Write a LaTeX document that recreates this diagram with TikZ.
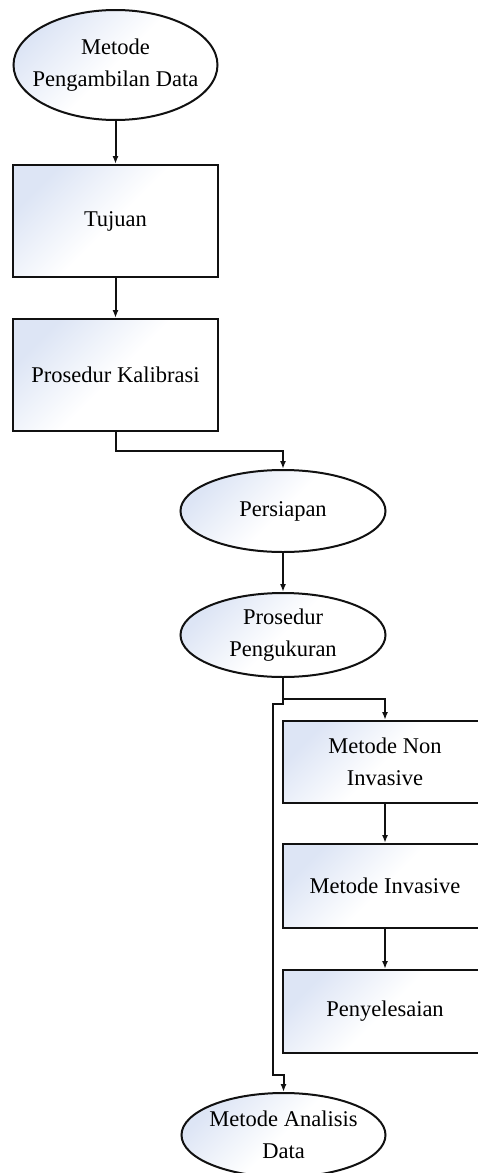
\documentclass[tikz,border=0pt]{standalone}
\usepackage{fontspec}
\setmainfont{Liberation Serif}
\usetikzlibrary{shapes.geometric,arrows.meta}
\definecolor{gradc}{HTML}{DDE5F5}
\definecolor{linec}{HTML}{111111}
\tikzset{
  gfill/.style={draw=linec, line width=2pt, top color=gradc, bottom color=white, middle color=white, shading angle=45},
  ell/.style={gfill, ellipse, inner sep=0pt},
  boxn/.style={gfill, rectangle, inner sep=0pt},
  txt/.style={align=center, font=\fontsize{22.5}{32}\selectfont, text=black, inner sep=0pt},
  conn/.style={draw=linec, line width=2pt, -{Latex[length=8pt,width=6pt]}},
}
\begin{document}
\begin{tikzpicture}[x=1pt,y=-1pt]
\useasboundingbox (0,0) rectangle (478,1173);
\clip (0,0) rectangle (478,1173);
\node[ell, minimum width=204pt, minimum height=110pt] (top) at (115.5,65) {};
\node[txt] (toptxt) at (top.center) {Metode\\Pengambilan Data};
\node[boxn, minimum width=205pt, minimum height=112pt] (tuj) at (115.5,221) {};
\node[txt] (tujtxt) at (tuj.center) {Tujuan};
\node[boxn, minimum width=205pt, minimum height=112pt] (kal) at (115.5,375) {};
\node[txt] (kaltxt) at (kal.center) {Prosedur Kalibrasi};
\node[ell, minimum width=205pt, minimum height=82pt] (pers) at (283,511) {};
\node[txt] (perstxt) at (pers.center) {Persiapan};
\node[ell, minimum width=205pt, minimum height=84pt] (peng) at (283,635) {};
\node[txt] (pengtxt) at (peng.center) {Prosedur\\Pengukuran};
\node[boxn, minimum width=204pt, minimum height=82pt] (non) at (385,762) {};
\node[txt] (nontxt) at (non.center) {Metode Non\\Invasive};
\node[boxn, minimum width=204pt, minimum height=84pt] (inv) at (385,886) {};
\node[txt] (invtxt) at (inv.center) {Metode Invasive};
\node[boxn, minimum width=204pt, minimum height=83pt] (peny) at (385,1011.5) {};
\node[txt] (penytxt) at (peny.center) {Penyelesaian};
\node[ell, minimum width=204pt, minimum height=84pt] (ana) at (283.5,1135) {};
\node[txt] (anatxt) at (ana.center) {Metode Analisis\\Data};
\draw[conn] (top.south) -- (tuj.north);
\draw[conn] (tuj.south) -- (kal.north);
\draw[conn] (kal.south) -- ++(0,19) -| (pers.north);
\draw[conn] (pers.south) -- (peng.north);
\draw[conn] (peng.south) -- ++(0,21) -| (non.north);
\draw[conn] (peng.south) -- ++(0,26) -- ++(-10,0) -- ++(0,371) -| (ana.north);
\draw[conn] (non.south) -- (inv.north);
\draw[conn] (inv.south) -- (peny.north);
\end{tikzpicture}
\end{document}
